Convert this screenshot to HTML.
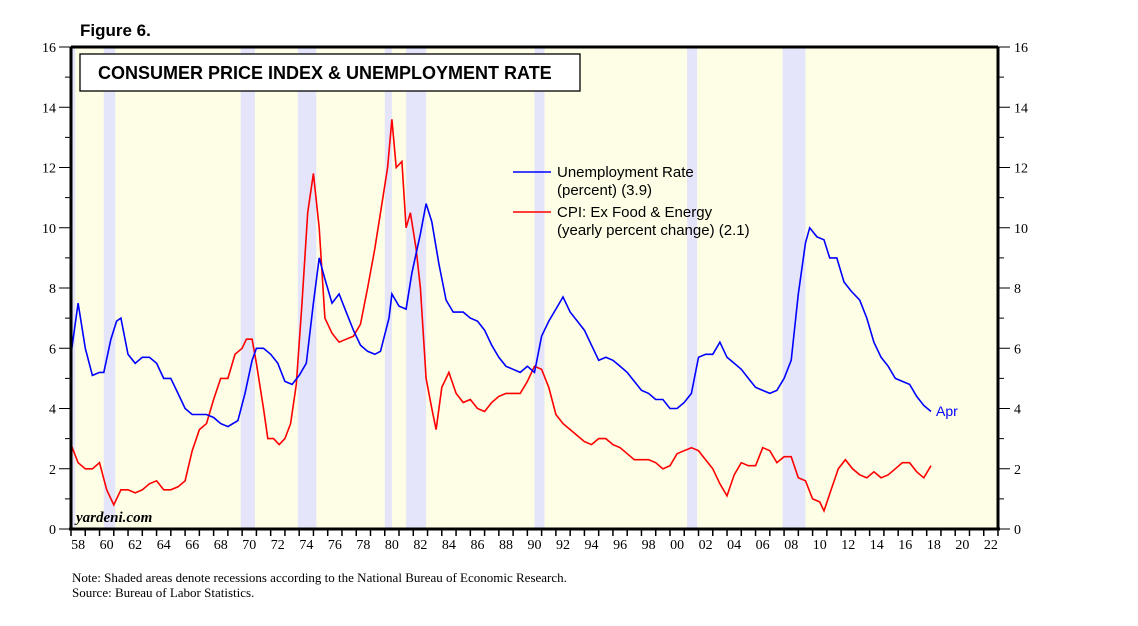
<!DOCTYPE html>
<html><head><meta charset="utf-8"><style>
body{margin:0;background:#fff;width:1138px;height:621px;overflow:hidden}
svg text{font-family:"Liberation Serif",serif}
</style></head><body>
<svg width="1138" height="621">
<text x="80" y="36" font-family="Liberation Sans" font-weight="bold" font-size="17" style="font-family:'Liberation Sans',sans-serif">Figure 6.</text>
<g id="plot"></g>
<text x="72" y="582" font-size="13">Note: Shaded areas denote recessions according to the National Bureau of Economic Research.</text>
<text x="72" y="597" font-size="13">Source: Bureau of Labor Statistics.</text>
</svg>
<script>
const recessions=[[1957.6,1958.3],[1960.3,1961.1],[1969.9,1970.9],[1973.9,1975.2],[1980.0,1980.5],[1981.5,1982.9],[1990.5,1991.2],[2001.2,2001.9],[2007.9,2009.5]];
const unempYears=[1958.0,1958.5,1959.0,1959.5,1960.0,1960.3,1960.8,1961.2,1961.5,1962.0,1962.5,1963,1963.5,1964,1964.5,1965,1965.5,1966,1966.5,1967,1967.5,1968,1968.5,1969,1969.7,1970.2,1970.7,1971,1971.5,1972,1972.5,1973,1973.5,1974,1974.5,1975.0,1975.4,1975.8,1976.3,1976.8,1977.3,1977.8,1978.3,1978.8,1979.3,1979.7,1980.3,1980.5,1981.0,1981.5,1981.9,1982.5,1982.9,1983.3,1983.8,1984.3,1984.8,1985.5,1986,1986.5,1987,1987.5,1988,1988.5,1989,1989.5,1990,1990.5,1991,1991.5,1992,1992.5,1993,1993.5,1994,1994.5,1995,1995.5,1996,1996.5,1997,1997.5,1998,1998.5,1999,1999.5,2000,2000.5,2001,2001.5,2002,2002.5,2003,2003.5,2004,2004.5,2005,2005.5,2006,2006.5,2007,2007.5,2008,2008.5,2009,2009.5,2009.8,2010.3,2010.8,2011.2,2011.7,2012.2,2012.7,2013.3,2013.8,2014.3,2014.8,2015.3,2015.8,2016.3,2016.8,2017.3,2017.8,2018.3];
const unempValues=[5.8,7.5,6.0,5.1,5.2,5.2,6.3,6.9,7.0,5.8,5.5,5.7,5.7,5.5,5.0,5.0,4.5,4.0,3.8,3.8,3.8,3.7,3.5,3.4,3.6,4.5,5.6,6.0,6.0,5.8,5.5,4.9,4.8,5.1,5.5,7.5,9.0,8.3,7.5,7.8,7.2,6.6,6.1,5.9,5.8,5.9,7.0,7.8,7.4,7.3,8.5,9.8,10.8,10.2,8.8,7.6,7.2,7.2,7.0,6.9,6.6,6.1,5.7,5.4,5.3,5.2,5.4,5.2,6.4,6.9,7.3,7.7,7.2,6.9,6.6,6.1,5.6,5.7,5.6,5.4,5.2,4.9,4.6,4.5,4.3,4.3,4.0,4.0,4.2,4.5,5.7,5.8,5.8,6.2,5.7,5.5,5.3,5.0,4.7,4.6,4.5,4.6,5.0,5.6,7.8,9.5,10.0,9.7,9.6,9.0,9.0,8.2,7.9,7.6,7.0,6.2,5.7,5.4,5.0,4.9,4.8,4.4,4.1,3.9];
const cpiYears=[1958.0,1958.5,1959,1959.5,1960,1960.5,1961,1961.5,1962,1962.5,1963,1963.5,1964,1964.5,1965,1965.5,1966,1966.5,1967,1967.5,1968,1968.5,1969,1969.5,1970,1970.3,1970.7,1971,1971.5,1971.8,1972.2,1972.6,1973.0,1973.4,1973.8,1974.2,1974.6,1975.0,1975.4,1975.8,1976.3,1976.8,1977.3,1977.8,1978.3,1978.8,1979.3,1979.7,1980.2,1980.5,1980.8,1981.2,1981.5,1981.8,1982.2,1982.5,1982.9,1983.3,1983.6,1984.0,1984.5,1985,1985.5,1986,1986.5,1987,1987.5,1988,1988.5,1989,1989.5,1990,1990.5,1991.0,1991.5,1992,1992.5,1993,1993.5,1994,1994.5,1995,1995.5,1996,1996.5,1997,1997.5,1998,1998.5,1999,1999.5,2000,2000.5,2001,2001.5,2002,2002.5,2003,2003.5,2004,2004.5,2005,2005.5,2006,2006.5,2007,2007.5,2008,2008.5,2009,2009.5,2010,2010.5,2010.8,2011.3,2011.8,2012.3,2012.8,2013.3,2013.8,2014.3,2014.8,2015.3,2015.8,2016.3,2016.8,2017.3,2017.8,2018.3];
const cpiValues=[2.8,2.2,2.0,2.0,2.2,1.3,0.8,1.3,1.3,1.2,1.3,1.5,1.6,1.3,1.3,1.4,1.6,2.6,3.3,3.5,4.3,5.0,5.0,5.8,6.0,6.3,6.3,5.5,4.0,3.0,3.0,2.8,3.0,3.5,4.8,7.5,10.5,11.8,10.0,7.0,6.5,6.2,6.3,6.4,6.8,8.0,9.3,10.5,12.0,13.6,12.0,12.2,10.0,10.5,9.3,8.0,5.0,4.0,3.3,4.7,5.2,4.5,4.2,4.3,4.0,3.9,4.2,4.4,4.5,4.5,4.5,4.9,5.4,5.3,4.7,3.8,3.5,3.3,3.1,2.9,2.8,3.0,3.0,2.8,2.7,2.5,2.3,2.3,2.3,2.2,2.0,2.1,2.5,2.6,2.7,2.6,2.3,2.0,1.5,1.1,1.8,2.2,2.1,2.1,2.7,2.6,2.2,2.4,2.4,1.7,1.6,1.0,0.9,0.6,1.3,2.0,2.3,2.0,1.8,1.7,1.9,1.7,1.8,2.0,2.2,2.2,1.9,1.7,2.1];
const yTicks=[0,2,4,6,8,10,12,14,16];
const xLabels=["58","60","62","64","66","68","70","72","74","76","78","80","82","84","86","88","90","92","94","96","98","00","02","04","06","08","10","12","14","16","18","20","22"];
const NS="http://www.w3.org/2000/svg";
const L=71,R=998,T=47,B=529;
const x=yr=>L+(yr-1958)*(R-L)/65;
const y=v=>B-v*(B-T)/16;
const g=document.getElementById('plot');
function mk(tag,at){const e=document.createElementNS(NS,tag);for(const k in at)e.setAttribute(k,at[k]);g.appendChild(e);return e;}
let bg=mk('rect',{x:L,y:T,width:R-L,height:B-T,fill:'#fefee6'});


recessions.forEach(r=>{const a=Math.max(r[0],1958);let e=mk('rect',{x:x(a),y:T,width:x(r[1])-x(a),height:B-T,fill:'#e4e4fa'});

});
let tb=mk('rect',{x:80,y:54,width:500,height:37,fill:'#fff',stroke:'#000','stroke-width':1.3});


let tt=mk('text',{x:98,y:79,'font-size':18,'font-weight':'bold',style:"font-family:'Liberation Sans',sans-serif"});tt.textContent='CONSUMER PRICE INDEX & UNEMPLOYMENT RATE';


function line(xs,vs,col,name){const d=xs.map((a,i)=>(i?'L':'M')+x(a).toFixed(1)+','+y(vs[i]).toFixed(1)).join('');let p=mk('path',{d:d,fill:'none',stroke:col,'stroke-width':1.6});

}
line(cpiYears,cpiValues,'#f00','cpi-line');
line(unempYears,unempValues,'#00f','unemployment-line');
// axes
mk('line',{x1:L,y1:T,x2:L,y2:B,stroke:'#000','stroke-width':3});
mk('line',{x1:L-2,y1:B,x2:R+2,y2:B,stroke:'#000','stroke-width':3});
mk('line',{x1:L,y1:T,x2:R,y2:T,stroke:'#000','stroke-width':3});
mk('line',{x1:R,y1:T,x2:R,y2:B,stroke:'#000','stroke-width':3});
for(let v=0;v<=16;v++){const big=v%2==0;mk('line',{x1:L-(big?12:6),y1:y(v),x2:L,y2:y(v),stroke:'#000'});mk('line',{x1:R,y1:y(v),x2:R+(big?12:6),y2:y(v),stroke:'#000'});}
yTicks.forEach(v=>{let a=mk('text',{x:56,y:y(v)+5,'font-size':14,'text-anchor':'end'});a.textContent=v;


let b=mk('text',{x:1014,y:y(v)+5,'font-size':14});b.textContent=v;

});
for(let yr=1958;yr<=2023;yr++)mk('line',{x1:x(yr),y1:B,x2:x(yr),y2:B+7,stroke:'#000','stroke-width':1.5});
xLabels.forEach((s,i)=>{let a=mk('text',{x:x(1958+2*i+0.5),y:B+20,'font-size':14,'text-anchor':'middle'});a.textContent=s;

});
let w=mk('text',{x:76,y:522,'font-size':15,'font-style':'italic','font-weight':'bold'});w.textContent='yardeni.com';


let ap=mk('text',{x:936,y:416,'font-size':14,fill:'#00f',style:"font-family:'Liberation Sans',sans-serif"});ap.textContent='Apr';


function leg(yy,col,t1,t2,name){mk('line',{x1:513,y1:yy,x2:551,y2:yy,stroke:col,'stroke-width':1.6});
let a=mk('text',{x:557,y:yy+5,'font-size':15,style:"font-family:'Liberation Sans',sans-serif"});a.textContent=t1;


let b=mk('text',{x:557,y:yy+23,'font-size':15,style:"font-family:'Liberation Sans',sans-serif"});b.textContent=t2;

}
leg(172,'#00f','Unemployment Rate','(percent) (3.9)','legend-unemployment');
leg(212,'#f00','CPI: Ex Food & Energy','(yearly percent change) (2.1)','legend-cpi');
</script>
</body></html>
